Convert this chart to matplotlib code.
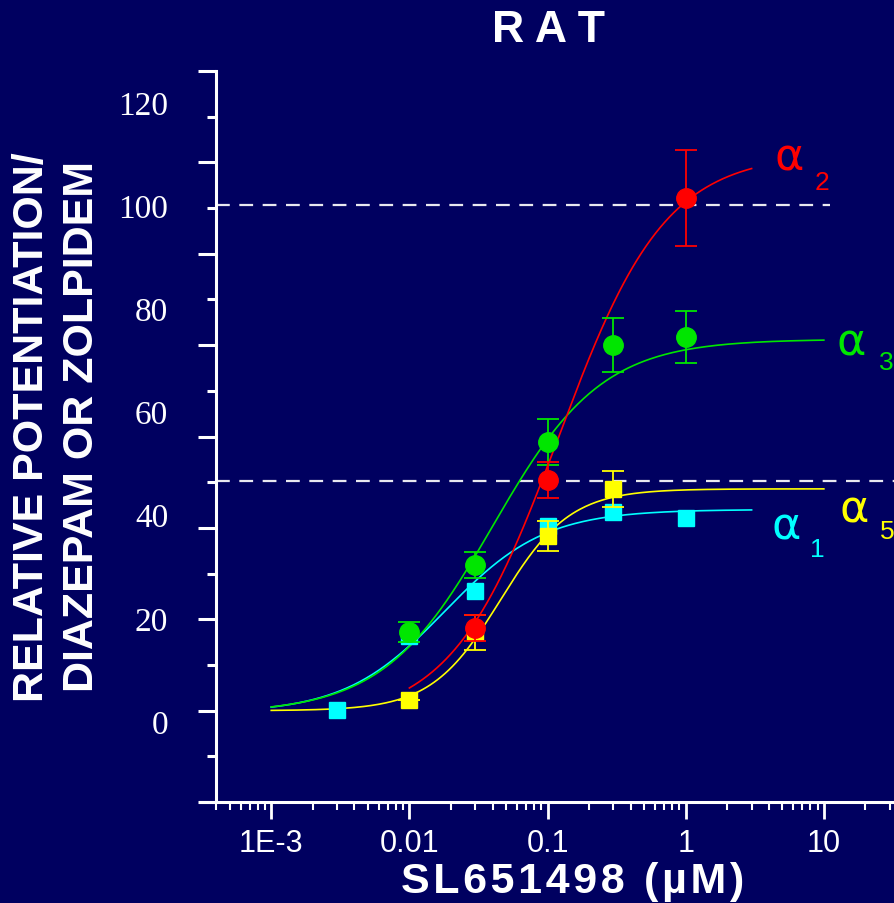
import numpy as np
import matplotlib.pyplot as plt
from matplotlib.ticker import LogLocator, NullFormatter

bg = '#000060'

# measured points (SL651498 concentration in uM, % potentiation)
conc_a2 = [0.03, 0.1, 1]
resp_a2 = [18.0, 46.7, 101.4]
err_a2 = [2.5, 3.5, 9.3]

conc_a3 = [0.01, 0.03, 0.1, 0.3, 1]
resp_a3 = [17.3, 30.2, 54.1, 72.9, 74.4]
err_a3 = [1.9, 2.5, 4.5, 5.2, 5.0]

conc_a1 = [0.003, 0.01, 0.03, 0.1, 0.3, 1]
resp_a1 = [2.1, 16.5, 25.2, 37.8, 40.5, 39.4]

conc_a5 = [0.01, 0.03, 0.1, 0.3]
resp_a5 = [4.1, 17.2, 35.9, 45.0]
err_a5 = [0.0, 3.4, 2.9, 3.5]

# fitted curves: bottom, top, EC50, hill slope, x from, x to
fit_a2 = [0.0, 110.0, 0.12, 1.12, 0.01, 3]
fit_a3 = [1.5, 74.0, 0.04, 1.1, 1e-3, 10]
fit_a1 = [1.5, 41.0, 0.018, 1.2, 1e-3, 3]
fit_a5 = [2.0, 45.0, 0.0457, 1.73, 1e-3, 10]

ref_levels = [100, 46.5]
ytick_vals = [0, 20, 40, 60, 80, 100, 120]
xtick_vals = [1e-3, 1e-2, 1e-1, 1, 10]
xtick_text = ['1E-3', '0.01', '0.1', '1', '10']


def hill(x, bottom, top, ec50, n):
    return bottom + (top - bottom) / (1 + (ec50 / x) ** n)


def curve(ax, fit, col):
    x = np.logspace(np.log10(fit[4]), np.log10(fit[5]), 300)
    ax.plot(x, hill(x, *fit[:4]), color=col, lw=1.2, zorder=2)


fig = plt.figure(figsize=(8.94, 9.04), dpi=100, facecolor=bg)
ax = fig.add_axes([200 / 894, 1 - 803 / 904, 694 / 894, 731 / 904])
ax.set_facecolor(bg)
ax.set_xscale('log')
ax.set_xlim(3.05e-4, 32.2)
ax.set_ylim(-15.7, 126.0)

ax.hlines(ref_levels[0], 4e-4, 11, colors='#e8e8f0', lw=1.6, linestyles=(0, (6.2, 4.3)), zorder=1)
ax.hlines(ref_levels[1], 4e-4, 40, colors='#e8e8f0', lw=1.6, linestyles=(0, (6.2, 4.3)), zorder=1)

cyan, yellow, green, red = '#00ffff', '#ffff00', '#00e600', '#ff0000'

curve(ax, fit_a1, cyan)
curve(ax, fit_a5, yellow)
curve(ax, fit_a3, green)
curve(ax, fit_a2, red)

ax.plot(conc_a1, resp_a1, 's', color=cyan, ms=12, zorder=3)
ax.errorbar(conc_a5, resp_a5, yerr=err_a5, fmt='s', color=yellow, ms=12,
            capsize=8, elinewidth=1.3, capthick=1.3, zorder=4)
ax.errorbar(conc_a3, resp_a3, yerr=err_a3, fmt='o', color=green, ms=14,
            capsize=8, elinewidth=1.3, capthick=1.3, zorder=5)
ax.errorbar(conc_a2, resp_a2, yerr=err_a2, fmt='o', color=red, ms=14,
            capsize=8, elinewidth=1.3, capthick=1.3, zorder=6)

# subunit labels
labs = [('2', 5.57, 109.4, 9.68, 104.5, red),
        ('3', 15.9, 73.5, 28.1, 69.6, green),
        ('5', 16.5, 41.1, 28.7, 36.8, yellow),
        ('1', 5.3, 37.8, 8.9, 33.3, cyan)]
for d, xa, ya, xd, yd, c in labs:
    ax.text(xa, ya, '\u03b1', color=c, fontsize=32, ha='center', va='center',
            family='DejaVu Sans')
    ax.text(xd, yd, d, color=c, fontsize=19, ha='center', va='center',
            family='Liberation Sans')

# spines
for s in ['top', 'right']:
    ax.spines[s].set_visible(False)
ax.spines['left'].set_position(('data', 4e-4))
ax.spines['left'].set_color('white')
ax.spines['bottom'].set_color('white')
ax.spines['left'].set_linewidth(2.2)
ax.spines['bottom'].set_linewidth(2.2)

# x ticks
ax.set_xticks(xtick_vals)
ax.set_xticklabels(xtick_text)
ax.xaxis.set_minor_locator(LogLocator(base=10, subs=np.arange(2, 10), numticks=20))
ax.xaxis.set_minor_formatter(NullFormatter())
ax.tick_params(axis='x', which='major', length=12, width=2, color='white',
               labelcolor='white', labelsize=22, pad=7)
ax.tick_params(axis='x', which='minor', length=6, width=1.5, color='white')
for lb in ax.get_xticklabels():
    lb.set_fontfamily('Liberation Sans')

# y labels (no marks) and separate tick marks
ax.set_yticks(ytick_vals)
ax.tick_params(axis='y', which='major', length=0, pad=34.6, labelcolor='white', labelsize=24)
for lb in ax.get_yticklabels():
    lb.set_fontfamily('Liberation Serif')

ax2 = ax.twinx()
ax2.set_ylim(ax.get_ylim())
for s in ['top', 'right', 'bottom', 'left']:
    ax2.spines[s].set_visible(False)
ax2.spines['left'].set_position(('data', 4e-4))
ax2.yaxis.set_ticks_position('left')
marks = np.linspace(-15.7, 126.0, 17)
ax2.set_yticks(marks[::2])
ax2.set_yticks(marks[1::2], minor=True)
ax2.tick_params(axis='y', which='major', length=13, width=2.2, color='white',
                labelleft=False, labelright=False)
ax2.tick_params(axis='y', which='minor', length=6.5, width=2.2, color='white',
                labelleft=False, labelright=False)

# titles
fig.text(549 / 894, 1 - 30 / 904, 'R A T', color='white', fontsize=32,
         fontweight='bold', ha='center', va='center', family='Liberation Sans')
fig.text(573 / 894, 1 - 882 / 904, '\u200a'.join('SL651498 (\u00b5M)'), color='white',
         fontsize=31, fontweight='bold', ha='center', va='center',
         family=['Liberation Sans', 'DejaVu Sans'])
fig.text(57 / 894, 1 - 427 / 904, 'RELATIVE POTENTIATION/\nDIAZEPAM OR ZOLPIDEM',
         color='white', fontsize=31, fontweight='bold', rotation=90,
         ha='center', va='center', linespacing=1.3, family='Liberation Sans')

fig.savefig('out.png', dpi=100, facecolor=bg)
